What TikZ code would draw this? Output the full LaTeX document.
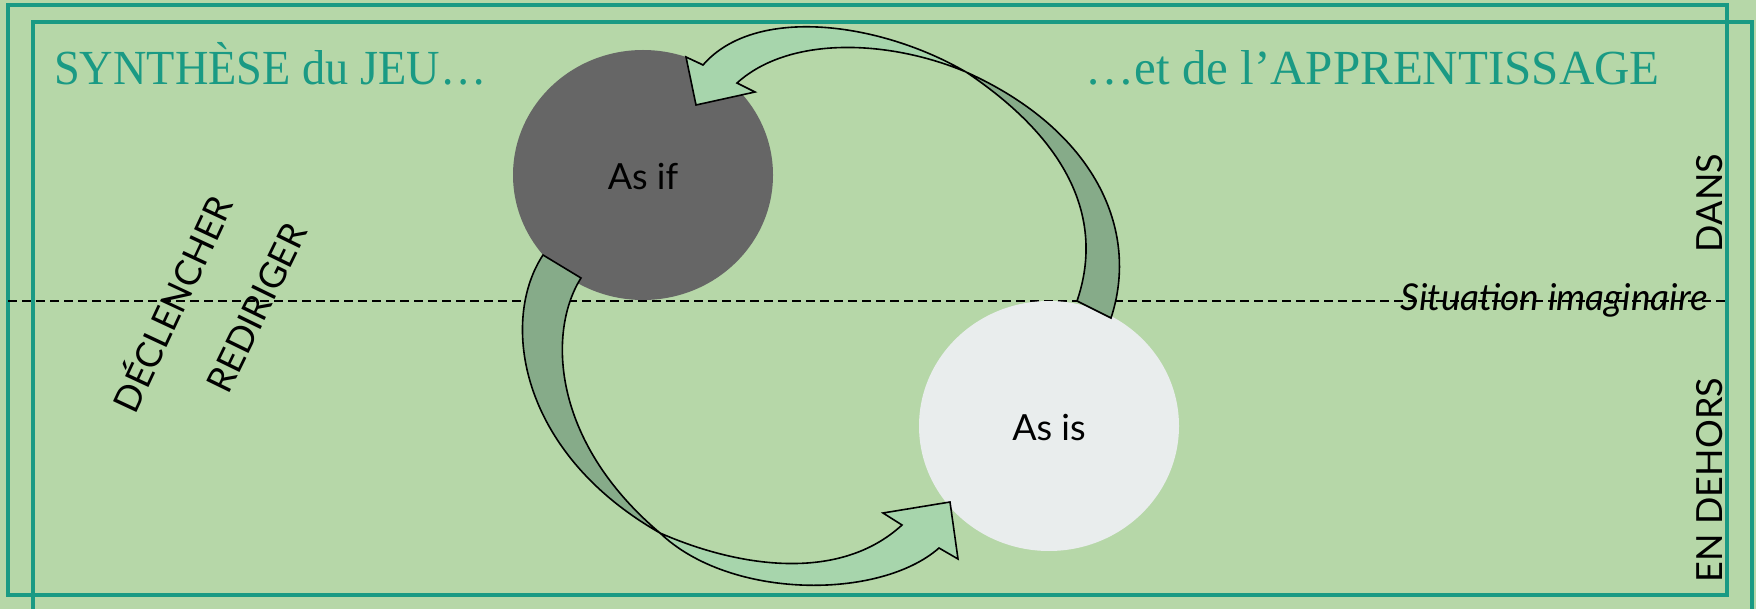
\documentclass[tikz,border=0pt]{standalone}
\usepackage{fontspec}
\usepackage{graphicx}
\setmainfont{Liberation Serif}
\newfontfamily\lato{Lato}
\definecolor{bg}{HTML}{B6D7A8}
\definecolor{teal}{HTML}{1A9A84}
\definecolor{darkarrow}{HTML}{86AB89}
\definecolor{lightarrow}{HTML}{A7D5AC}
\definecolor{asif}{HTML}{666666}
\definecolor{asis}{HTML}{E9EDED}
\tikzset{
  frameline/.style={draw=teal, line width=3.3pt},
  darkpart/.style={fill=darkarrow, draw=black, line width=1.6pt, line join=miter},
  lightpart/.style={fill=lightarrow, draw=black, line width=1.6pt, line join=miter},
  titletext/.style={text=teal, font=\fontsize{49}{55}\selectfont, inner sep=0pt},
  sidetext/.style={font=\lato\fontsize{36}{40}\selectfont, inner sep=0pt},
  circtext/.style={font=\lato\fontsize{36}{40}\selectfont, inner sep=0pt}
}
\begin{document}
\begin{tikzpicture}[x=1pt, y=-1pt]
\useasboundingbox (0,0) rectangle (1756,609);
\clip (0,0) rectangle (1756,609);
\fill[bg] (0,0) rectangle (1756,609);
% frames
\draw[frameline] (8,5) rectangle (1727,595);
\draw[frameline] (33,22) rectangle (1752,640);
% dashed line
\coordinate (dl) at (8,301);
\coordinate (dr) at (1727,301);
\draw[black, line width=1.4pt, dash pattern=on 9pt off 5pt] (dl) -- (dr);
% circles
\fill[asif] (643,175) ellipse [x radius=130, y radius=125];
\fill[asis] (1049,426) ellipse [x radius=130, y radius=125];
\node[circtext] (asifn) at (643,177) {As if};
\node[circtext] (asisn) at (1049,428) {As is};
% crossing points of the arrows
\coordinate (xtop) at (966,72);
\coordinate (xbot) at (660,533);
% top arrow (dark back part)
\filldraw[darkpart] (1077,301) -- (1111,318)
  .. controls (1140,230) and (1095,130) .. (xtop)
  .. controls (1075,145) and (1103,225) .. (1077,301) -- cycle;
% top arrow (light front part)
\filldraw[lightpart] (xtop)
  .. controls (880,22) and (755,5) .. (703,65)
  -- (686,57) -- (696,105) -- (755,92) -- (737,83)
  .. controls (790,35) and (890,40) .. (xtop) -- cycle;
% bottom arrow (dark back part)
\filldraw[darkpart] (581,278) -- (543,255)
  .. controls (500,320) and (518,452) .. (xbot)
  .. controls (550,440) and (548,330) .. (581,278) -- cycle;
% bottom arrow (light front part)
\filldraw[lightpart] (xbot)
  .. controls (740,568) and (840,582) .. (902,525)
  -- (883,513) -- (950,502) -- (958,559) -- (939,548)
  .. controls (880,600) and (730,600) .. (xbot) -- cycle;
% titles
\node[titletext, anchor=base west] (t1) at (54,85) {\scalebox{0.945}[1]{SYNTHÈSE du JEU…}};
\node[titletext, anchor=base east] (t2) at (1660,85) {…et de l’APPRENTISSAGE};
% side texts
\node[sidetext, rotate=90, anchor=base] (dans) at (1722,203) {DANS};
\node[sidetext, rotate=90, anchor=base] (dehors) at (1722,480) {EN DEHORS};
\node[font=\lato\itshape\fontsize{37}{42}\selectfont, inner sep=0pt, anchor=base east] (sit) at (1708,311) {Situation imaginaire};
\node[sidetext, rotate=65] (decl) at (170,303) {DÉCLENCHER};
\node[sidetext, rotate=64] (redir) at (257,308) {REDIRIGER};
\end{tikzpicture}
\end{document}
